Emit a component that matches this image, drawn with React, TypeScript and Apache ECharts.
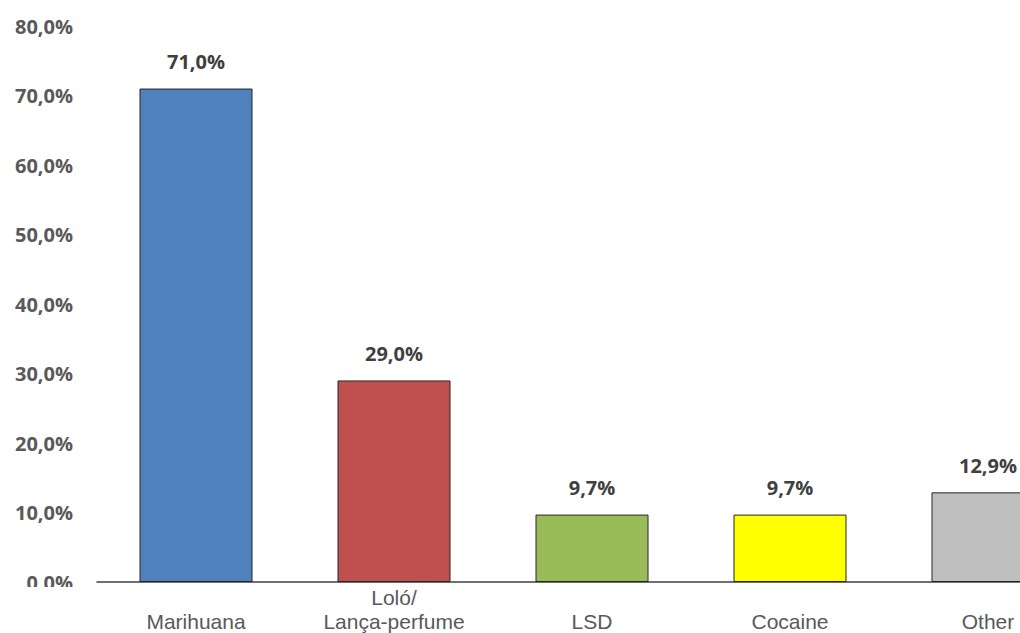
import React, { useEffect, useRef } from "react";
import * as echarts from "echarts";

const categories = ["Marihuana", "Loló/\nLança-perfume", "LSD", "Cocaine", "Other"];
const values = [71.0, 29.0, 9.7, 9.7, 12.9];
const barColors = ["#4F81BD", "#C0504D", "#9BBB59", "#FFFF00", "#BFBFBF"];
const yTicks = { min: 0, max: 80, interval: 10 };

const fmt = (v: number) => v.toFixed(1).replace(".", ",") + "%";

export default function App() {
  const ref = useRef<HTMLDivElement>(null);
  useEffect(() => {
    if (!ref.current) return;
    const chart = echarts.init(ref.current, null, { renderer: "svg" });
    chart.setOption({
      animation: false,
      backgroundColor: "#ffffff",
      grid: { left: 97, top: 26, bottom: 50, right: 13, containLabel: false },
      xAxis: {
        type: "category",
        data: categories,
        axisLine: { show: true, lineStyle: { color: "#404040", width: 1.5 } },
        axisTick: { show: false },
        axisLabel: {
          interval: 0,
          margin: 3,
          color: "#595959",
          fontFamily: "Liberation Sans, Arial, sans-serif",
          fontSize: 21,
          lineHeight: 24,
          formatter: (v: string) => (v.includes("\n") ? v : "\n" + v),
        },
      },
      yAxis: {
        type: "value",
        min: yTicks.min,
        max: yTicks.max,
        interval: yTicks.interval,
        splitLine: { show: false },
        axisLine: { show: false },
        axisTick: { show: false },
        axisLabel: {
          margin: 24,
          color: "#595959",
          fontFamily: "Open Sans, sans-serif",
          fontWeight: "bold",
          fontSize: 20,
          formatter: (v: number) => fmt(v),
        },
      },
      series: [
        {
          type: "bar",
          barWidth: 113,
          data: values.map((v, i) => ({
            value: v,
            itemStyle: { color: barColors[i], borderColor: "#262626", borderWidth: 1 },
          })),
          label: {
            show: true,
            position: "top",
            distance: 17,
            color: "#404040",
            fontFamily: "Open Sans, sans-serif",
            fontWeight: "bold",
            fontSize: 20,
            formatter: (p: any) => fmt(p.value),
          },
        },
      ],
      graphic: [
        {
          type: "rect",
          left: 0,
          top: 587,
          shape: { width: 95, height: 14 },
          style: { fill: "#ffffff" },
          z: 100,
        },
      ],
    });
    return () => chart.dispose();
  }, []);
  return (
    <div style={{ position: "fixed", left: 0, top: 0, width: 1020, height: 633, overflow: "hidden", background: "#fff" }}>
      <div ref={ref} style={{ width: 1100, height: 633 }} />
    </div>
  );
}
